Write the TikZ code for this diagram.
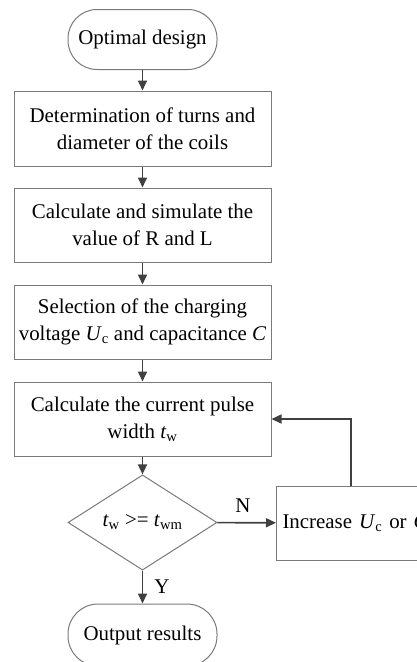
\documentclass[tikz,border=0pt]{standalone}
\usepackage{fontspec}
\setmainfont{Liberation Serif}
\usetikzlibrary{shapes.geometric,arrows.meta}
\definecolor{boxgray}{HTML}{7A7A7A}
\definecolor{arrgray}{HTML}{404040}
\begin{document}
\begin{tikzpicture}[x=1pt,y=-1pt,
 every node/.style={font=\fontsize{20.9}{27}\selectfont},
 box/.style={draw=boxgray,line width=1pt,minimum width=257pt,minimum height=75pt,align=center,inner sep=0pt},
 term/.style={draw=boxgray,line width=1pt,minimum width=149pt,minimum height=60pt,rounded corners=29pt,inner sep=0pt},
 dec/.style={draw=boxgray,diamond,line width=1pt,minimum width=149pt,minimum height=89pt,inner sep=0pt},
 arr/.style={draw=arrgray,line width=1.6pt,-{Triangle[length=10pt,width=9pt]}}]
\useasboundingbox (0,0) rectangle (417,662);
\clip (0,0) rectangle (417,662);
\node[term] (start) at (142.5,39.5) {Optimal design};
\node[box] (b1) at (142.5,128.5) {Determination of turns and\\diameter of the coils};
\node[box,minimum height=74pt] (b2) at (142.5,225) {Calculate and simulate the\\value of R and L};
\node[box,minimum height=74pt] (b3) at (142.5,322) {Selection of the charging\\voltage \textit{U}\textsubscript{c} and capacitance \textit{C}};
\node[box,minimum height=74pt] (b4) at (142.5,419) {Calculate the current pulse\\width \textit{t}\textsubscript{w}};
\node[dec] (dec) at (142.5,522.5) {\textit{t}\textsubscript{w} >= \textit{t}\textsubscript{wm}};
\node[term,minimum height=62pt,rounded corners=30pt] (out) at (142.5,635) {Output results};
\node[box,anchor=west,minimum width=0pt,text width=200pt,inner xsep=6pt,align=left,minimum height=74pt] (inc) at (276,523) {Increase \textit{U}\textsubscript{c} or \textit{C}};
\node (nlab) at (243,506) {N};
\node (ylab) at (162,587) {Y};
\coordinate (fb) at (350.7,419);
\draw[arr] (start) -- (b1);
\draw[arr] (b1) -- (b2);
\draw[arr] (b2) -- (b3);
\draw[arr] (b3) -- (b4);
\draw[arr] (b4) -- (dec);
\draw[arr] (dec) -- (out);
\draw[arr] (dec) -- (inc);
\draw[arr] (inc.north -| fb) -- (fb) -- (b4.east |- fb);
\end{tikzpicture}
\end{document}
